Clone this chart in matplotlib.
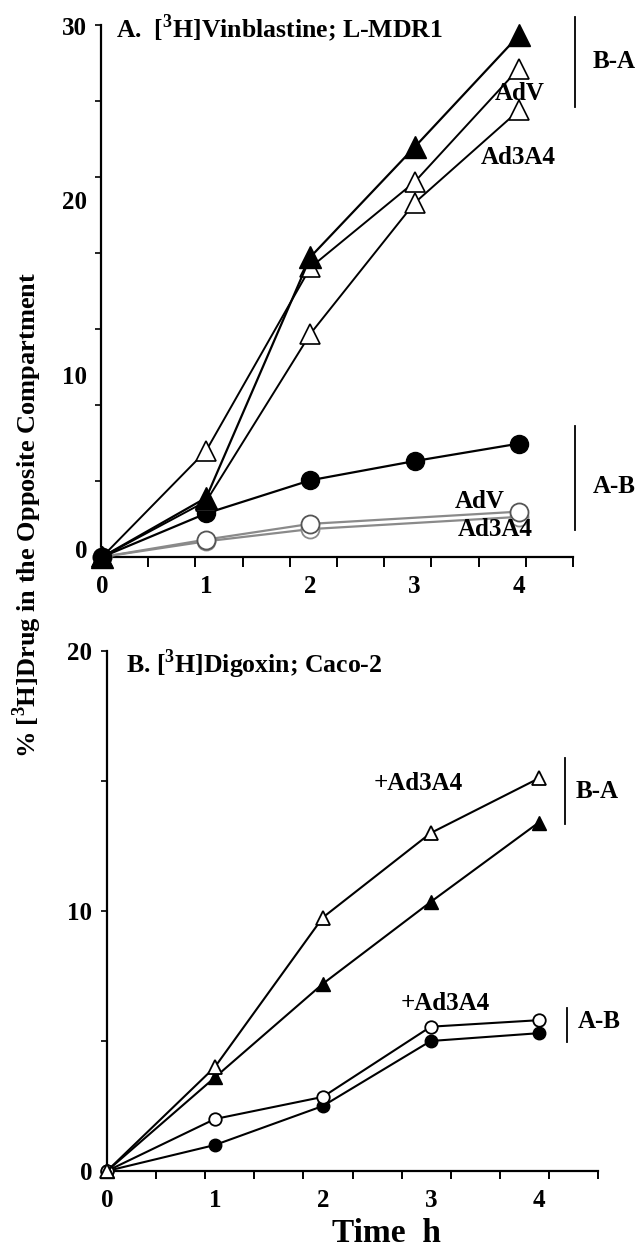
import numpy as np
import matplotlib
matplotlib.use('Agg')
import matplotlib.pyplot as plt
from matplotlib.lines import Line2D
from matplotlib.transforms import ScaledTranslation

plt.rcParams['font.family'] = 'Liberation Serif'
plt.rcParams['font.weight'] = 'bold'
plt.rcParams['mathtext.fontset'] = 'custom'
plt.rcParams['mathtext.rm'] = 'Liberation Serif:bold'
plt.rcParams['mathtext.bf'] = 'Liberation Serif:bold'

# time points (h)
time_h = [0, 1, 2, 3, 4]
time_nogap = [0, 1, 2, 4]   # open circles in A have no 3 h point

# A. vinblastine, L-MDR1 cells
vin_ba_ctrl = [0, 3.4, 17.2, 23.5, 29.9]
vin_ba_adv = [0, 6.1, 16.6, 21.5, 28.0]
vin_ba_ad3a4 = [0, 3.2, 12.8, 20.3, 25.6]
vin_ab_ctrl = [0, 2.5, 4.4, 5.5, 6.5]
vin_ab_adv = [0, 1.0, 1.9, 2.6]
vin_ab_ad3a4 = [0, 0.9, 1.6, 2.3]

# B. digoxin, Caco-2 cells
dig_ba_ctrl = [0, 3.6, 7.2, 10.35, 13.4]
dig_ba_ad3a4 = [0, 4.0, 9.75, 13.0, 15.1]
dig_ab_ctrl = [0, 1.0, 2.5, 5.0, 5.3]
dig_ab_ad3a4 = [0, 2.0, 2.85, 5.55, 5.8]

W, H = 637, 1249
fig = plt.figure(figsize=(W / 100, H / 100), dpi=100)
axA = fig.add_axes([101 / W, 1 - 557 / H, 472 / W, 532 / H])
axB = fig.add_axes([107 / W, 1 - 1171 / H, 491 / W, 520 / H])

for ax in (axA, axB):
    ax.spines['top'].set_visible(False)
    ax.spines['right'].set_visible(False)
    ax.spines['left'].set_linewidth(1.6)
    ax.spines['bottom'].set_linewidth(1.6)

# panel A
gray = '#8a8a8a'
axA.plot(time_nogap, vin_ab_ad3a4, color=gray, lw=1.6, marker='o', ms=13,
         mfc='white', mec=gray, mew=1.3, clip_on=False, zorder=3)
axA.plot(time_nogap, vin_ab_adv, color=gray, lw=1.6, marker='o', ms=13,
         mfc='white', mec='#555555', mew=1.3, clip_on=False, zorder=3)
axA.plot(time_h, vin_ab_ctrl, color='k', lw=1.6, marker='o', ms=13,
         mfc='k', mec='k', clip_on=False, zorder=4)
axA.plot(time_h, vin_ba_ad3a4, color='k', lw=1.4, marker='^', ms=15,
         mfc='white', mec='k', mew=1.2, clip_on=False, zorder=4)
axA.plot(time_h, vin_ba_adv, color='k', lw=1.4, marker='^', ms=15,
         mfc='white', mec='k', mew=1.2, clip_on=False, zorder=4)
axA.plot(time_h, vin_ba_ctrl, color='k', lw=1.6, marker='^', ms=16,
         mfc='k', mec='k', clip_on=False, zorder=5)

xa = (-0.01, 4.52)
axA.set_xlim(*xa)
axA.set_ylim(0, 30.5)
axA.set_xticks([0, 1, 2, 3, 4])
axA.set_xticks(np.linspace(xa[0], xa[1], 11), minor=True)
axA.set_yticks([0, 10, 20, 30])
axA.set_yticks(np.linspace(0, 30.5, 8), minor=True)
axA.tick_params(axis='x', which='major', length=0, pad=13, labelsize=18)
axA.tick_params(axis='x', which='minor', length=7, width=1.4)
axA.tick_params(axis='y', which='major', length=0, pad=10, labelsize=18)
axA.tick_params(axis='y', which='minor', length=4, width=1.2)
# the printed y labels of panel A sit a little above their values
for lbl in axA.get_yticklabels():
    lbl.set_transform(lbl.get_transform() + ScaledTranslation(0, 0.08, fig.dpi_scale_trans))

# panel B
axB.plot(time_h, dig_ab_ctrl, color='k', lw=1.5, marker='o', ms=9,
         mfc='k', mec='k', clip_on=False, zorder=4)
axB.plot(time_h, dig_ab_ad3a4, color='k', lw=1.5, marker='o', ms=9,
         mfc='white', mec='k', mew=1.3, clip_on=False, zorder=4)
axB.plot(time_h, dig_ba_ctrl, color='k', lw=1.5, marker='^', ms=10,
         mfc='k', mec='k', clip_on=False, zorder=4)
axB.plot(time_h, dig_ba_ad3a4, color='k', lw=1.5, marker='^', ms=10,
         mfc='white', mec='k', mew=1.3, clip_on=False, zorder=4)

xb = (0, 4.55)
axB.set_xlim(*xb)
axB.set_ylim(0, 20)
axB.set_xticks([0, 1, 2, 3, 4])
axB.set_xticks(np.linspace(xb[0], xb[1], 11), minor=True)
axB.set_yticks([0, 5, 10, 15, 20])
axB.set_yticklabels(['0', '', '10', '', '20'])
axB.tick_params(axis='x', which='major', length=0, pad=13, labelsize=18)
axB.tick_params(axis='x', which='minor', length=6, width=1.4)
axB.tick_params(axis='y', which='major', length=4.5, width=1.2, pad=6, labelsize=18)


def ftxt(x, y, s, **kw):
    kw.setdefault('va', 'center')
    kw.setdefault('fontsize', 18)
    fig.text(x / W, 1 - y / H, s, **kw)


def fbar(x, y0, y1):
    fig.add_artist(Line2D([x / W, x / W], [1 - y0 / H, 1 - y1 / H],
                          color='k', lw=1.3))


ftxt(116, 28, r'A.  [$^{3}$H]Vinblastine; L-MDR1', ha='left', fontsize=18.5)
fbar(575, 17, 107)
ftxt(593, 62, 'B-A', ha='left')
ftxt(520, 93, 'AdV', ha='center')
ftxt(518, 157, 'Ad3A4', ha='center')
fbar(575, 426, 530)
ftxt(593, 487, 'A-B', ha='left')
ftxt(480, 502, 'AdV', ha='center')
ftxt(495, 530, 'Ad3A4', ha='center')

ftxt(126, 664, r'B. [$^{3}$H]Digoxin; Caco-2', ha='left', fontsize=18.5)
ftxt(418, 783, '+Ad3A4', ha='center')
fbar(565, 758, 824)
ftxt(576, 792, 'B-A', ha='left')
ftxt(445, 1004, '+Ad3A4', ha='center')
fbar(567, 1008, 1042)
ftxt(578, 1021, 'A-B', ha='left')

ftxt(27, 515, r'% [$^{3}$H]Drug in the Opposite Compartment', ha='center',
     rotation=90, fontsize=19)
ftxt(386, 1234, 'Time  h', ha='center', fontsize=24)

fig.savefig('out.png', dpi=100)
